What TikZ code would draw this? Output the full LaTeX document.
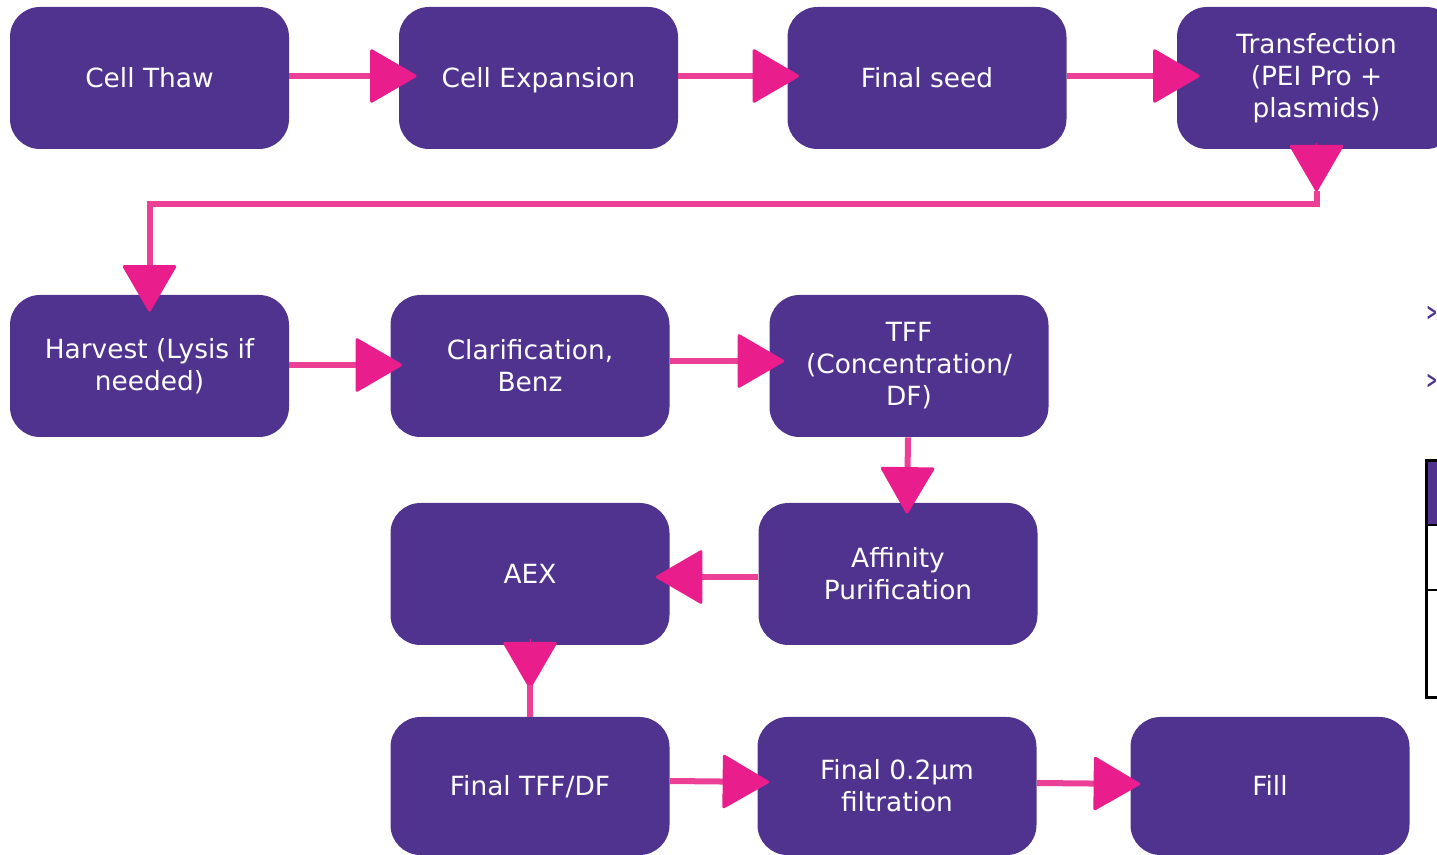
\documentclass[tikz,border=0pt]{standalone}
\usepackage{fontspec}
\setmainfont{DejaVu Sans}
\usetikzlibrary{arrows.meta,calc}
\definecolor{boxpurple}{RGB}{79,51,142}
\definecolor{pinkline}{RGB}{236,64,150}
\definecolor{pinkhead}{RGB}{233,30,140}
\begin{document}
\begin{tikzpicture}[x=0.5pt,y=-0.5pt,
  stepbox/.style={rectangle, rounded corners=15pt, fill=boxpurple, text=white,
    minimum width=139.5pt, minimum height=71pt, align=center,
    font=\fontsize{13.2}{16}\selectfont, inner sep=0pt},
  oneline/.style={text height=12.5pt, text depth=2.5pt},
  conn/.style={draw=pinkline, line width=3pt,
    -{Triangle[length=24pt,width=27.5pt,round,color=pinkhead,line width=1.5pt]}},
  headonly/.style={draw=pinkhead, line width=0.1pt,
    -{Triangle[length=24pt,width=27.5pt,round,color=pinkhead,line width=1.5pt]}},
  plain/.style={draw=pinkline, line width=3pt},
  chev/.style={text=boxpurple, font=\bfseries\fontsize{12}{13}\selectfont, anchor=center, inner sep=0pt}]
\useasboundingbox (0,0) rectangle (1437,855);
% row 1
\node[stepbox, oneline] (thaw) at (149.5,78) {Cell Thaw};
\node[stepbox, oneline] (exp) at (538.5,78) {Cell Expansion};
\node[stepbox, oneline] (seed) at (927,78) {Final seed};
\node[stepbox] (trans) at (1316.5,78) {Transfection\\(PEI Pro +\\plasmids)};
% row 2
\node[stepbox] (harv) at (149.5,366) {Harvest (Lysis if\\needed)};
\node[stepbox] (clar) at (530,366) {Clarification,\\Benz};
\node[stepbox] (tff) at (909,366) {TFF\\(Concentration/\\DF)};
% row 3
\node[stepbox, oneline] (aex) at (530,574) {AEX};
\node[stepbox] (aff) at (898,574) {Affinity\\Purification};
% row 4
\node[stepbox, oneline, minimum height=69pt] (ftff) at (530,786) {Final TFF/DF};
\node[stepbox, minimum height=69pt] (f02) at (897,786) {Final 0.2µm\\filtration};
\node[stepbox, oneline, minimum height=69pt] (fill) at (1270,786) {Fill};
% connectors
\draw[conn] ($(thaw.east)+(0,-2)$) -- ($(exp.west)+(18,-2)$);
\draw[conn] ($(exp.east)+(0,-2)$) -- ($(seed.west)+(12,-2)$);
\draw[conn] ($(seed.east)+(0,-2)$) -- ($(trans.west)+(23,-2)$);
\coordinate (tdrop) at ($(trans.south)+(0,42)$);
\draw[headonly] ($(trans.south)+(0,-6)$) -- (tdrop);
\draw[conn] (tdrop) |- ($(harv.north)+(0,-91)$) -- ($(harv.north)+(0,17)$);
\draw[conn] ($(harv.east)+(0,-1)$) -- ($(clar.west)+(12,-1)$);
\draw[conn] ($(clar.east)+(0,-5)$) -- ($(tff.west)+(15,-5)$);
\draw[conn] ($(tff.south)+(-1,0)$) -- ($(aff.north)+(9,11)$);
\draw[conn] ($(aff.west)+(0,3)$) -- ($(aex.east)+(-14,3)$);
\draw[headonly] ($(aex.south)+(0,-6)$) -- ($(aex.south)+(0,43)$);
\draw[plain] ($(aex.south)+(0,40)$) -- (ftff.north);
\draw[conn] ($(ftff.east)+(0,-5)$) -- ($(f02.west)+(12,-4)$);
\draw[conn] ($(f02.east)+(0,-3)$) -- ($(fill.west)+(10,-2)$);
% cropped fragments at right edge
\node[chev] (g1) at (1432,313) {\scalebox{0.55}[1]{>}};
\node[chev] (g2) at (1432,381) {\scalebox{0.55}[1]{>}};
\fill[boxpurple] (1426,462) rectangle (1460,525);
\draw[line width=1.5pt] (1426,461) rectangle (1460,698);
\draw[line width=1pt] (1426,525) -- (1460,525);
\draw[line width=1pt] (1426,590) -- (1460,590);
\end{tikzpicture}
\end{document}
